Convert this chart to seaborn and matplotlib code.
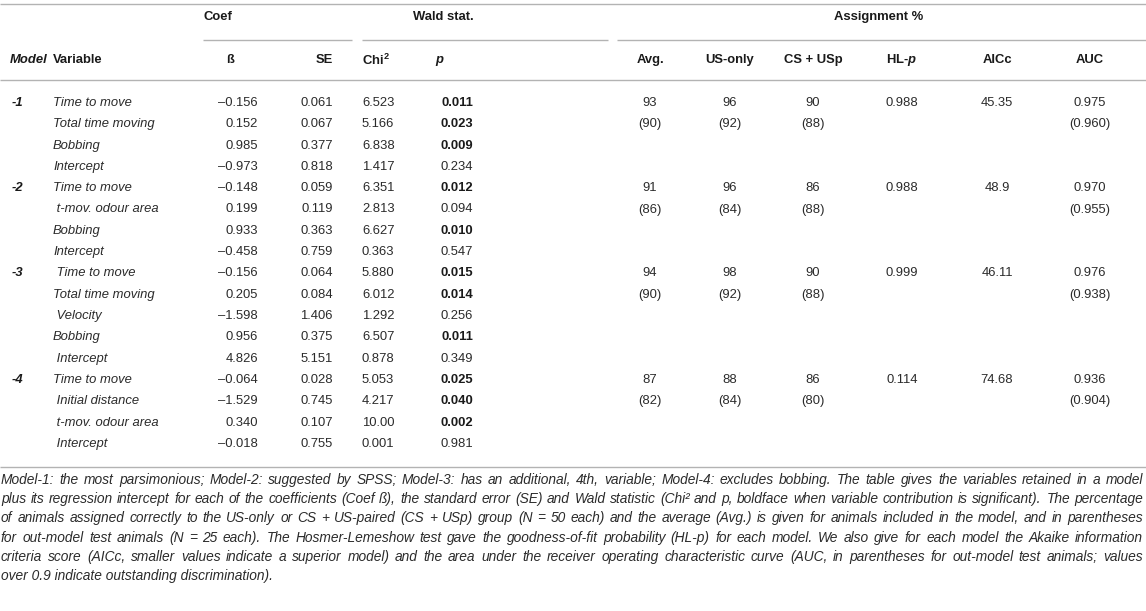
import numpy as np
import pandas as pd
import matplotlib
matplotlib.use("Agg")
import matplotlib.pyplot as plt
import seaborn as sns

# ---- table data ----
models = ["-1", "-2", "-3", "-4"]
n_vars = [4, 4, 5, 4]
variables = ["Time to move", "Total time moving", "Bobbing", "Intercept",
             "Time to move", " t-mov. odour area", "Bobbing", "Intercept",
             " Time to move", "Total time moving", " Velocity", "Bobbing", " Intercept",
             "Time to move", " Initial distance", " t-mov. odour area", " Intercept"]
beta = ["–0.156", "0.152", "0.985", "–0.973",
        "–0.148", "0.199", "0.933", "–0.458",
        "–0.156", "0.205", "–1.598", "0.956", "4.826",
        "–0.064", "–1.529", "0.340", "–0.018"]
se = ["0.061", "0.067", "0.377", "0.818",
      "0.059", "0.119", "0.363", "0.759",
      "0.064", "0.084", "1.406", "0.375", "5.151",
      "0.028", "0.745", "0.107", "0.755"]
chi2 = ["6.523", "5.166", "6.838", "1.417",
        "6.351", "2.813", "6.627", "0.363",
        "5.880", "6.012", "1.292", "6.507", "0.878",
        "5.053", "4.217", "10.00", "0.001"]
p_val = ["0.011", "0.023", "0.009", "0.234",
         "0.012", "0.094", "0.010", "0.547",
         "0.015", "0.014", "0.256", "0.011", "0.349",
         "0.025", "0.040", "0.002", "0.981"]

avg = ["93", "91", "94", "87"]
avg_test = ["(90)", "(86)", "(90)", "(82)"]
us_only = ["96", "96", "98", "88"]
us_only_test = ["(92)", "(84)", "(92)", "(84)"]
cs_usp = ["90", "86", "90", "86"]
cs_usp_test = ["(88)", "(88)", "(88)", "(80)"]
hl_p = ["0.988", "0.988", "0.999", "0.114"]
aicc = ["45.35", "48.9", "46.11", "74.68"]
auc = ["0.975", "0.970", "0.976", "0.936"]
auc_test = ["(0.960)", "(0.955)", "(0.938)", "(0.904)"]

caption_lines = [
    "Model-1: the most parsimonious; Model-2: suggested by SPSS; Model-3: has an additional, 4th, variable; Model-4: excludes bobbing. The table gives the variables retained in a model",
    "plus its regression intercept for each of the coefficients (Coef ß), the standard error (SE) and Wald statistic (Chi² and p, boldface when variable contribution is significant). The percentage",
    "of animals assigned correctly to the US-only or CS + US-paired (CS + USp) group (N = 50 each) and the average (Avg.) is given for animals included in the model, and in parentheses",
    "for out-model test animals (N = 25 each). The Hosmer-Lemeshow test gave the goodness-of-fit probability (HL-p) for each model. We also give for each model the Akaike information",
    "criteria score (AICc, smaller values indicate a superior model) and the area under the receiver operating characteristic curve (AUC, in parentheses for out-model test animals; values",
    "over 0.9 indicate outstanding discrimination).",
]

rows = pd.DataFrame({"variable": variables, "beta": beta, "se": se,
                     "chi2": chi2, "p": p_val})
rows["sig"] = rows["p"].astype(float) < 0.05

sns.set_theme(style="white")
plt.rcParams["font.family"] = ["Liberation Sans", "DejaVu Sans"]
plt.rcParams["mathtext.fontset"] = "custom"
plt.rcParams["mathtext.bf"] = "Liberation Sans:bold"
plt.rcParams["mathtext.it"] = "Liberation Sans:italic"
plt.rcParams["mathtext.bfit"] = "Liberation Sans:italic:bold"

W, H = 1146, 611
fig = plt.figure(figsize=(W / 100, H / 100), dpi=100)
ax = fig.add_axes([0, 0, 1, 1])
ax.set_xlim(0, W)
ax.set_ylim(H, 0)
ax.axis("off")

FS = 9.4
TXT = "#2b2b2b"
HDR = "#1a1a1a"
RULE = "#b3b3b3"

# rules
for y in [4, 80, 467]:
    ax.plot([0, W], [y, y], color=RULE, lw=1.0, solid_capstyle="butt")
for x0, x1 in [(203, 352), (362, 608), (617, W)]:
    ax.plot([x0, x1], [40, 40], color=RULE, lw=1.0, solid_capstyle="butt")

# group headers
hk = dict(fontsize=FS, fontweight="bold", color=HDR, va="center")
ax.text(203, 17, "Coef", ha="left", **hk)
ax.text(443, 17, "Wald stat.", ha="center", **hk)
ax.text(879, 17, "Assignment %", ha="center", **hk)

# column headers
yh = 60
ax.text(10, yh, "Model", ha="left", style="italic", **hk)
ax.text(53, yh, "Variable", ha="left", **hk)
ax.text(230, yh, "ß", ha="center", **hk)
ax.text(333, yh, "SE", ha="right", **hk)
ax.text(362, yh, r"Chi$^{\mathbf{2}}$", ha="left", **hk)
ax.text(435, yh, "p", ha="left", style="italic", **hk)
ax.text(650, yh, "Avg.", ha="center", **hk)
ax.text(730, yh, "US-only", ha="center", **hk)
ax.text(813, yh, "CS + USp", ha="center", **hk)
ax.text(902, yh, r"HL-$\mathbfit{p}$", ha="center", **hk)
ax.text(997, yh, "AICc", ha="center", **hk)
ax.text(1090, yh, "AUC", ha="center", **hk)

# body
row_y = 103 + 21.3 * np.arange(len(rows))
dk = dict(fontsize=FS, color=TXT, va="center")
for i, r in rows.iterrows():
    y = row_y[i]
    ax.text(53, y, r["variable"], ha="left", style="italic", **dk)
    ax.text(258, y, r["beta"], ha="right", **dk)
    ax.text(333, y, r["se"], ha="right", **dk)
    ax.text(362, y, r["chi2"], ha="left", **dk)
    ax.text(473, y, r["p"], ha="right",
            fontweight="bold" if r["sig"] else "normal",
            **{**dk, "color": HDR if r["sig"] else TXT})

starts = np.concatenate([[0], np.cumsum(n_vars)[:-1]])
for m, s in enumerate(starts):
    y0, y1 = row_y[s], row_y[s + 1]
    ax.text(12, y0, models[m], ha="left", style="italic",
            fontweight="bold", **{**dk, "color": HDR})
    ax.text(650, y0, avg[m], ha="center", **dk)
    ax.text(650, y1, avg_test[m], ha="center", **dk)
    ax.text(730, y0, us_only[m], ha="center", **dk)
    ax.text(730, y1, us_only_test[m], ha="center", **dk)
    ax.text(813, y0, cs_usp[m], ha="center", **dk)
    ax.text(813, y1, cs_usp_test[m], ha="center", **dk)
    ax.text(902, y0, hl_p[m], ha="center", **dk)
    ax.text(997, y0, aicc[m], ha="center", **dk)
    ax.text(1090, y0, auc[m], ha="center", **dk)
    ax.text(1090, y1, auc_test[m], ha="center", **dk)

# caption: size it so the longest line fits, then justify
renderer = fig.canvas.get_renderer()
ck = dict(style="italic", color=TXT, va="center",
          family=["Liberation Sans Narrow", "Liberation Sans"])
cap_x0, cap_x1 = 1, 1143
probe = [ax.text(0, 0, s, fontsize=10, **ck) for s in caption_lines[:-1]]
widest = max(a.get_window_extent(renderer).width for a in probe)
for a in probe:
    a.remove()
cap_fs = 10 * (cap_x1 - cap_x0) / widest * 0.995

cap_y = 480 + 19.2 * np.arange(len(caption_lines))
for j, line in enumerate(caption_lines):
    if j == len(caption_lines) - 1:
        ax.text(cap_x0, cap_y[j], line, ha="left", fontsize=cap_fs, **ck)
        continue
    words = line.split(" ")
    arts = [ax.text(0, cap_y[j], w, ha="left", fontsize=cap_fs, **ck) for w in words]
    widths = [a.get_window_extent(renderer).width for a in arts]
    gap = (cap_x1 - cap_x0 - sum(widths)) / (len(words) - 1)
    x = cap_x0
    for a, w in zip(arts, widths):
        a.set_x(x)
        x += w + gap

fig.savefig("out.png", dpi=100)
